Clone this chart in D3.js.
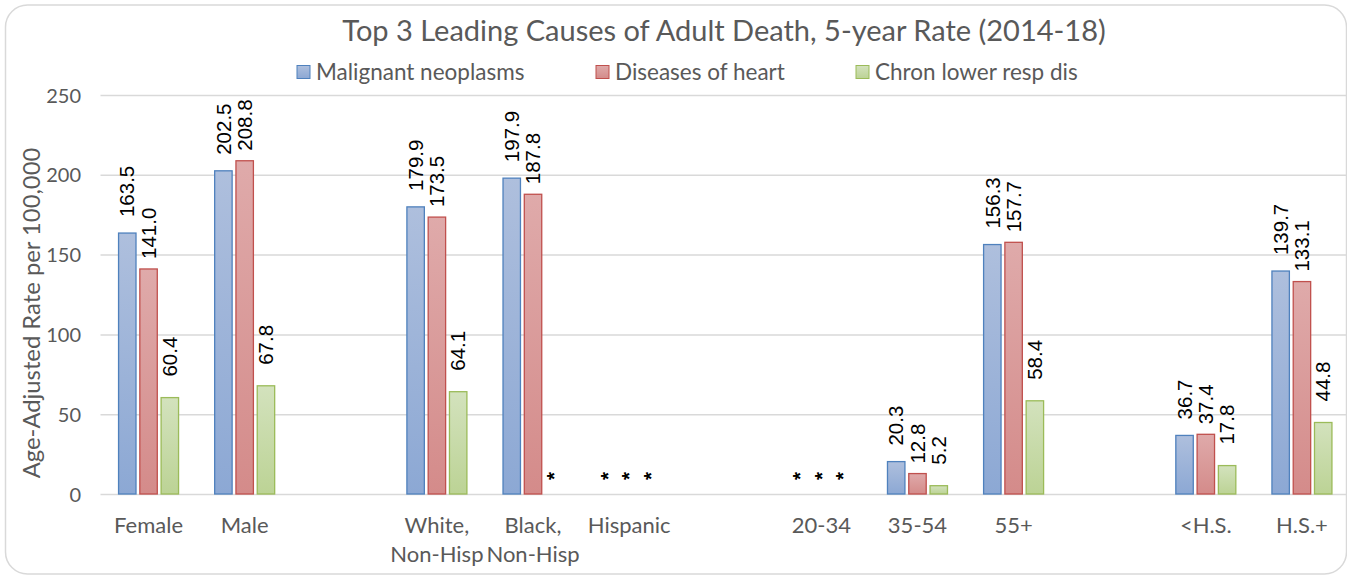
<!DOCTYPE html>
<meta charset="utf-8">
<style>
body { margin: 0; background: #fff; }
.tick line { stroke: #d9d9d9; stroke-width: 1.5; }
.axisText text { fill: #595959; font-family: Lato, sans-serif; font-size: 22px; }
.yTicks text { font-size: 20px; }
.grid path { stroke-width: 0; }
.label { font-family: "Liberation Sans", Arial, sans-serif; font-size: 20.5px; fill: #000; }
.legend text { fill: #595959; font-family: Lato, sans-serif; font-size: 22.5px; }
</style>
<body>
<script src="https://cdn.jsdelivr.net/npm/d3@7"></script>
<script>

// categories (blank slots are the gaps between groups)
var categories = ["Female", "Male", "", "White,|Non-Hisp", "Black,|Non-Hisp", "Hispanic", " ",
                  "20-34", "35-54", "55+", "  ", "<H.S.", "H.S.+"];
var series = ["Malignant neoplasms", "Diseases of heart", "Chron lower resp dis"];

// null = suppressed value, shown as "*"; undefined = gap column
var neoplasms = [163.5, 202.5, undefined, 179.9, 197.9, null, undefined, null, 20.3, 156.3, undefined, 36.7, 139.7];
var heart     = [141.0, 208.8, undefined, 173.5, 187.8, null, undefined, null, 12.8, 157.7, undefined, 37.4, 133.1];
var chronic   = [60.4,  67.8,  undefined, 64.1,  null,  null, undefined, null, 5.2,  58.4,  undefined, 17.8, 44.8];

var yTicks = [0, 50, 100, 150, 200, 250];

var W = 1347, H = 577;
var plotL = 100.5, plotR = 1350, plotT = 95, plotB = 494;

var svg = d3.select("body").append("svg")
    .attr("width", W)
    .attr("height", H);

// gradients for the bars (Excel 2007 look)
var colors = [
  {id: "gBlue",  top: "#aebfdd", bot: "#8ca8d4", stroke: "#4f81bd"},
  {id: "gRed",   top: "#dfaaaa", bot: "#d48b8a", stroke: "#c0504d"},
  {id: "gGreen", top: "#d3e2bd", bot: "#bcd395", stroke: "#9bbb59"}
];
var defs = svg.append("defs");
colors.forEach(function(c) {
  var g = defs.append("linearGradient").attr("id", c.id)
      .attr("x1", 0).attr("y1", 0).attr("x2", 0).attr("y2", 1);
  g.append("stop").attr("offset", "0%").attr("stop-color", c.top);
  g.append("stop").attr("offset", "100%").attr("stop-color", c.bot);
});

// outer frame
svg.append("rect")
    .attr("x", 5.5).attr("y", 5)
    .attr("width", 1341).attr("height", 569)
    .attr("rx", 22).attr("ry", 22)
    .attr("fill", "#fff")
    .attr("stroke", "#d9d9d9")
    .attr("stroke-width", 1.5);

// scales
var x0 = d3.scaleBand().domain(categories).range([plotL, plotR]);
var x1 = d3.scaleBand().domain(series).range([-30, 30]).paddingInner(0.18);
var y = d3.scaleLinear().domain([0, 250]).range([plotB, plotT]);

// gridlines
svg.append("g")
    .attr("class", "grid")
    .attr("transform", "translate(" + plotL + ",0)")
    .call(d3.axisLeft(y).tickValues(yTicks).tickSize(-(plotR - plotL)).tickFormat(""));

// y axis labels
var yAx = svg.append("g")
    .attr("class", "axisText yTicks")
    .attr("transform", "translate(81,0)")
    .call(d3.axisLeft(y).tickValues(yTicks).tickSize(0).tickPadding(0));
yAx.select(".domain").remove();
yAx.selectAll("text").attr("dy", "0.35em");

// x axis labels (two lines where there is a "|")
var xl = svg.append("g").attr("class", "axisText");
categories.forEach(function(c) {
  if (!c.trim()) return;
  var t = xl.append("text")
      .attr("x", x0(c) + x0.bandwidth() / 2)
      .attr("y", 533)
      .attr("text-anchor", "middle");
  c.split("|").forEach(function(line, i) {
    t.append("tspan")
        .attr("x", x0(c) + x0.bandwidth() / 2)
        .attr("dy", i ? 29 : 0)
        .text(line);
  });
});

// bars
var values = [neoplasms, heart, chronic];
var gaps = [16, 10, 21];
values.forEach(function(vals, s) {
  var data = categories.map(function(c, i) { return {cat: c, v: vals[i]}; })
      .filter(function(d) { return d.v !== undefined; });
  var cx = function(d) { return x0(d.cat) + x0.bandwidth() / 2 + x1(series[s]) + x1.bandwidth() / 2; };

  svg.selectAll(".bar" + s)
      .data(data.filter(function(d) { return d.v !== null; }))
    .enter().append("rect")
      .attr("class", "bar" + s)
      .attr("x", function(d) { return cx(d) - x1.bandwidth() / 2; })
      .attr("width", x1.bandwidth())
      .attr("y", function(d) { return y(d.v); })
      .attr("height", function(d) { return y(0) - y(d.v); })
      .attr("fill", "url(#" + colors[s].id + ")")
      .attr("stroke", colors[s].stroke)
      .attr("stroke-width", 1.3);

  // data labels, rotated
  svg.selectAll(".lab" + s)
      .data(data)
    .enter().append("text")
      .attr("class", "label")
      .attr("transform", function(d) {
        var v = d.v === null ? 0 : d.v;
        var g = d.v === null ? 14 : gaps[s];
        return "translate(" + cx(d) + "," + (y(v) - g) + ") rotate(-90)";
      })
      .attr("dy", "0.35em")
      .style("font-weight", function(d) { return d.v === null ? "bold" : null; })
      .text(function(d) { return d.v === null ? "*" : d.v.toFixed(1); });
});

// title
svg.append("text")
    .attr("x", 724).attr("y", 41)
    .attr("text-anchor", "middle")
    .style("font-family", "Lato, sans-serif")
    .style("font-size", "29px")
    .style("fill", "#595959")
    .text("Top 3 Leading Causes of Adult Death, 5-year Rate (2014-18)");

// y axis title
svg.append("text")
    .attr("transform", "translate(32,313) rotate(-90)")
    .attr("text-anchor", "middle")
    .attr("dy", "0.35em")
    .style("font-family", "Lato, sans-serif")
    .style("font-size", "23.8px")
    .style("fill", "#595959")
    .text("Age-Adjusted Rate per 100,000");

// legend
var legendX = [297, 596, 856];
var leg = svg.append("g").attr("class", "legend");
series.forEach(function(name, i) {
  leg.append("rect")
      .attr("x", legendX[i]).attr("y", 65.5)
      .attr("width", 13).attr("height", 13)
      .attr("fill", "url(#" + colors[i].id + ")")
      .attr("stroke", colors[i].stroke);
  leg.append("text")
      .attr("x", legendX[i] + 19).attr("y", 72)
      .attr("dy", "0.35em")
      .text(name);
});

</script>
</body>
